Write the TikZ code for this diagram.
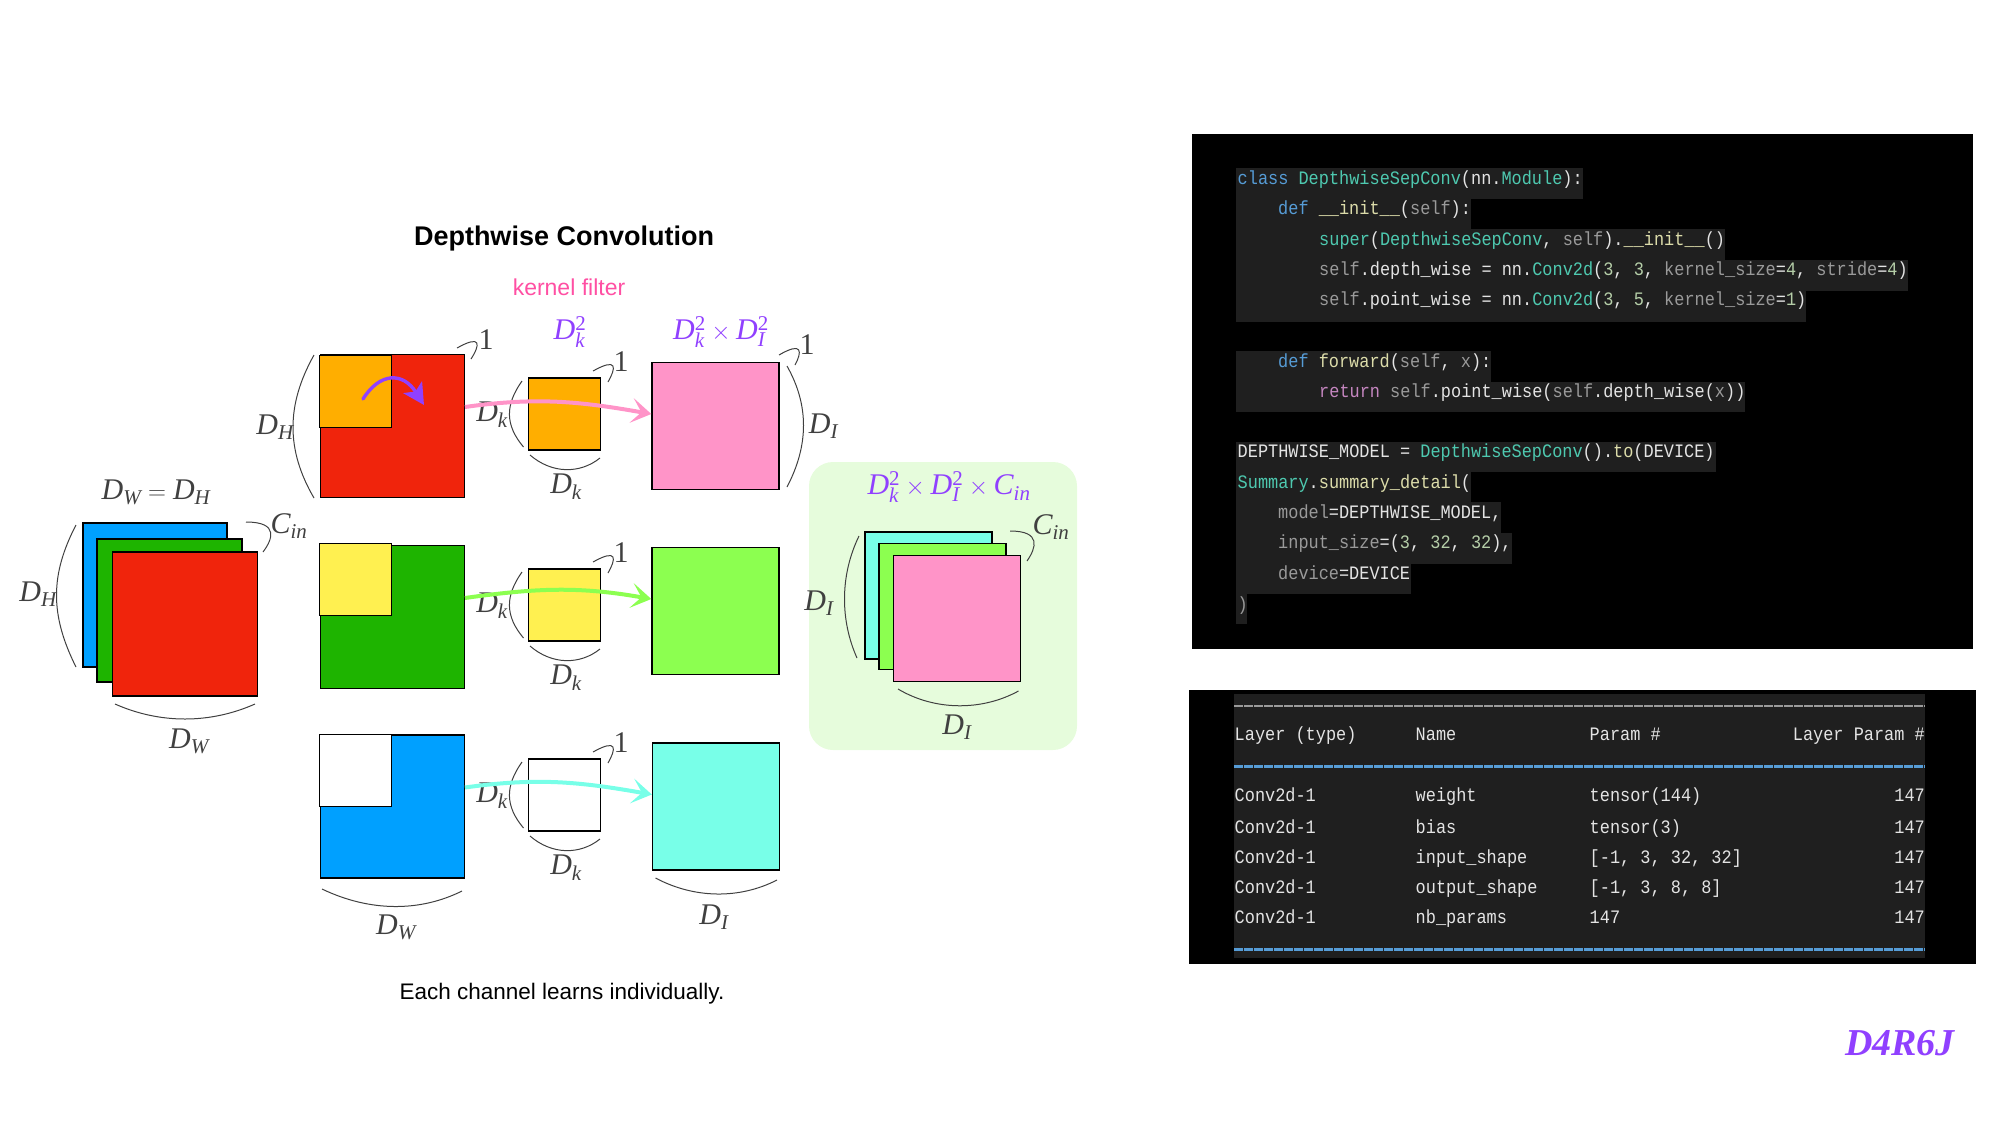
\documentclass[tikz,border=0pt]{standalone}
\usepackage{mathspec}
\setmainfont{Liberation Sans}
\setmathfont(Digits,Latin){Liberation Serif}
\newfontfamily\codefont[FakeStretch=0.89]{Liberation Mono}
\newfontfamily\signfont{Liberation Serif}
\usetikzlibrary{arrows.meta}
\definecolor{codeblue}{HTML}{569CD6}
\definecolor{codeteal}{HTML}{4EC9B0}
\definecolor{codegrey}{HTML}{9A9A9A}
\definecolor{codewhite}{HTML}{E4E4E4}
\definecolor{codeyellow}{HTML}{DCDCAA}
\definecolor{codepink}{HTML}{C586C0}
\definecolor{codenum}{HTML}{B5CEA8}
\newcommand{\ckw}[1]{\textcolor{codeblue}{#1}}
\newcommand{\ccl}[1]{\textcolor{codeteal}{#1}}
\newcommand{\cgr}[1]{\textcolor{codegrey}{#1}}
\newcommand{\cfn}[1]{\textcolor{codeyellow}{#1}}
\newcommand{\crt}[1]{\textcolor{codepink}{#1}}
\newcommand{\cnm}[1]{\textcolor{codenum}{#1}}
\begin{document}
\begin{tikzpicture}[x=1pt, y=1pt,
    sq/.style={draw=black, fill=#1, line width=1.4pt, inner sep=0pt},
    brk/.style={draw=black!75, line width=1pt},
    lbl/.style={text=black!75, inner sep=0pt, font=\fontsize{30}{32}\selectfont},
    plbl/.style={text=dimpurple, inner sep=0pt, font=\fontsize{30}{32}\selectfont},
    flowline/.style={draw=#1, line width=4pt, -{Stealth[length=20pt, width=25pt, inset=10pt, #1]}},
    codeln/.style={anchor=base west, inner sep=0pt, text=codewhite, font=\codefont\fontsize{19}{21}\selectfont},
    hl/.style={fill=black!88}]
  \definecolor{dimpurple}{HTML}{9040FF}
  \definecolor{ired}{HTML}{F0240C}
  \definecolor{iorange}{HTML}{FFAE00}
  \definecolor{igreen}{HTML}{1EB400}
  \definecolor{iyellow}{HTML}{FFF050}
  \definecolor{iblue}{HTML}{00A0FF}
  \definecolor{opink}{HTML}{FF94C8}
  \definecolor{ogreen}{HTML}{8CFF50}
  \definecolor{ocyan}{HTML}{78FFE8}
  \definecolor{panelgreen}{HTML}{E6FCDC}
  \definecolor{kernelpink}{HTML}{FF4FA3}
  \useasboundingbox (0,0) rectangle (2000,-1125);
  % ---- titles ---------------------------------------------------------------
  \node[inner sep=0pt, font=\fontsize{27}{30}\selectfont\bfseries] (title) at (564,-239) {Depthwise Convolution};
  \node[inner sep=0pt, text=kernelpink, font=\fontsize{23}{26}\selectfont] (kernel) at (569,-287) {kernel filter};
  \node[inner sep=0pt, font=\fontsize{22.5}{26}\selectfont] (caption) at (562,-994) {Each channel learns individually.};
  % ---- input stack ----------------------------------------------------------
  \node[sq=iblue, minimum width=144pt, minimum height=144pt] (inb) at (155,-595) {};
  \node[sq=igreen, minimum width=145pt, minimum height=143pt] (ing) at (169.5,-610.5) {};
  \node[sq=ired, minimum width=145pt, minimum height=144pt] (inr) at (185,-624) {};
  \node[lbl] (inwh) at (156,-492) {$D_W = D_H$};
  \node[lbl] (incin) at (289,-526) {$C_{in}$};
  \node[lbl] (inh) at (38,-594) {$D_H$};
  \node[lbl] (inw) at (189,-741) {$D_W$};
  \draw[brk] (246,-522) .. controls (280,-522) and (272,-540) .. (263,-552);
  \draw[brk] (76,-525) .. controls (50,-575) and (50,-615) .. (76,-667);
  \draw[brk] (115,-704) .. controls (160,-724) and (210,-724) .. (255,-704);
  % ---- channel squares and kernel patches -----------------------------------
  \foreach \n/\yb/\yk/\cb/\ck in {r/-426/-391.5/ired/iorange, g/-617/-579.5/igreen/iyellow, b/-806.5/-770.5/iblue/white} {
    \node[sq=\cb, minimum width=143.5pt, minimum height=143pt] (big\n) at (392.5,\yb) {};
    \node[sq=\ck, minimum width=72pt, minimum height=72.5pt] (patch\n) at (355.5,\yk) {};}
  \node[lbl] (dhbig) at (275,-427) {$D_H$};
  \node[lbl] (onebig) at (486,-340) {$1$};
  \draw[brk] (457,-348) .. controls (482,-334) and (480,-345) .. (471,-359);
  \draw[brk] (314,-355) .. controls (286,-405) and (286,-450) .. (314,-498);
  \node[lbl] (dwbig) at (396,-927) {$D_W$};
  \draw[brk] (322,-889) .. controls (370,-912) and (420,-912) .. (462,-891);
  % ---- small kernels --------------------------------------------------------
  \foreach \n/\ys/\cs in {r/0/iorange, g/191/iyellow, b/381/white} {
    \node[sq=\cs, minimum width=72.5pt, minimum height=72pt] (small\n) at (564.5,-414-\ys) {};
    \node[lbl] (dkl\n) at (492,-415-\ys) {$D_k$};
    \node[lbl] (dkb\n) at (566,-487-\ys) {$D_k$};
    \node[lbl] (one\n) at (621,-362-\ys) {$1$};
    \draw[brk] (593,-371-\ys) .. controls (618,-357-\ys) and (616,-368-\ys) .. (608,-382-\ys);
    \draw[brk] (522,-381-\ys) .. controls (505,-405-\ys) and (505,-425-\ys) .. (523.5,-447-\ys);
    \draw[brk] (530,-455-\ys) .. controls (552,-474-\ys) and (580,-474-\ys) .. (600,-458-\ys);}
  % ---- outputs --------------------------------------------------------------
  \node[sq=opink, minimum width=127pt, minimum height=126.5pt] (outr) at (715.5,-426) {};
  \node[sq=ogreen, minimum width=127pt, minimum height=126.5pt] (outg) at (715.5,-611) {};
  \node[sq=ocyan, minimum width=127pt, minimum height=127pt] (outb) at (716,-806.5) {};
  \node[plbl] (headk) at (570,-332) {$D_k^2$};
  \node[plbl] (headki) at (721,-332) {$D_k^2 \times D_I^2$};
  \node[lbl] (oneout) at (807,-345) {$1$};
  \node[lbl] (dir) at (823.5,-426) {$D_I$};
  \node[lbl] (dib) at (714,-917) {$D_I$};
  \draw[brk] (779,-355) .. controls (803,-341) and (802,-352) .. (795,-365);
  \draw[brk] (787,-366) .. controls (809,-405) and (809,-445) .. (787,-487);
  \draw[brk] (655.5,-878) .. controls (695,-899) and (740,-899) .. (777,-880);
  % ---- arrows ---------------------------------------------------------------
  \draw[flowline=opink] ([yshift=19pt]bigr.east) to[out=8, in=170] ([yshift=12pt]outr.west);
  \draw[flowline=ogreen] ([yshift=19pt]bigg.east) to[out=8, in=170] ([yshift=12pt]outg.west);
  \draw[flowline=ocyan] ([yshift=19pt]bigb.east) to[out=8, in=170] ([yshift=12pt]outb.west);
  \draw[draw=dimpurple, line width=3.4pt, line cap=round, -{Stealth[length=21pt, width=22pt, inset=5pt]}]
    (363,-399) .. controls (380,-372) and (403,-372) .. (424,-405);
  % ---- result panel ---------------------------------------------------------
  \node[fill=panelgreen, rounded corners=24pt, minimum width=268pt, minimum height=288pt, inner sep=0pt] (panel) at (943,-606) {};
  \node[plbl] (headall) at (949,-487) {$D_k^2 \times D_I^2 \times C_{in}$};
  \node[sq=ocyan, minimum width=127pt, minimum height=127pt] (resb) at (928.5,-595.5) {};
  \node[sq=ogreen, minimum width=127pt, minimum height=125.5pt] (resg) at (942.5,-606.5) {};
  \node[sq=opink, minimum width=127pt, minimum height=126.5pt] (resr) at (957,-618.5) {};
  \node[lbl] (rescin) at (1051,-527) {$C_{in}$};
  \node[lbl] (resl) at (819,-603) {$D_I$};
  \node[lbl] (resd) at (957,-727) {$D_I$};
  \draw[brk] (1010,-531) .. controls (1042,-531) and (1036,-548) .. (1027,-561);
  \draw[brk] (859,-536) .. controls (840,-575) and (840,-620) .. (857,-658);
  \draw[brk] (898,-689) .. controls (935,-711) and (982,-711) .. (1018.5,-691);
  % ---- code panel -----------------------------------------------------------
  \node[fill=black, inner sep=0pt, minimum width=781pt, minimum height=515pt] (codebox) at (1582,-391.5) {};
  \foreach \xr/\yt/\yb in {1583/168/199, 1471/199/229, 1725/229/260, 1908/260/291, 1806/291/322,
    1491/351/382, 1745/382/412, 1716/442/472, 1471/472/502, 1501/502/533, 1511.5/533/564, 1410.5/564/594, 1247/594/624}
    \fill[hl] (1236,-\yt) rectangle (\xr,-\yb);
  \node[codeln] (code1) at (1237.5,-184.5) {\ckw{class} \ccl{DepthwiseSepConv}(nn.\ccl{Module}):};
  \node[codeln] (code2) at (1278,-214.5) {\ckw{def} \cfn{\_\_init\_\_}(\cgr{self}):};
  \node[codeln] (code3) at (1319,-245.5) {\ccl{super}(\ccl{DepthwiseSepConv}, \cgr{self}).\cfn{\_\_init\_\_}()};
  \node[codeln] (code4) at (1319,-275.5) {\cgr{self}.depth\_wise = nn.\ccl{Conv2d}(\cnm{3}, \cnm{3}, \cgr{kernel\_size}=\cnm{4}, \cgr{stride}=\cnm{4})};
  \node[codeln] (code5) at (1319,-305.5) {\cgr{self}.point\_wise = nn.\ccl{Conv2d}(\cnm{3}, \cnm{5}, \cgr{kernel\_size}=\cnm{1})};
  \node[codeln] (code6) at (1278,-367.5) {\ckw{def} \cfn{forward}(\cgr{self}, \cgr{x}):};
  \node[codeln] (code7) at (1319,-397.5) {\crt{return} \cgr{self}.point\_wise(\cgr{self}.depth\_wise(\cgr{x}))};
  \node[codeln] (code8) at (1237.5,-457.5) {DEPTHWISE\_MODEL = \ccl{DepthwiseSepConv}().\cfn{to}(DEVICE)};
  \node[codeln] (code9) at (1237.5,-488.5) {\ccl{Summary}.\cfn{summary\_detail}(};
  \node[codeln] (code10) at (1278,-518.5) {\cgr{model}=DEPTHWISE\_MODEL,};
  \node[codeln] (code11) at (1278,-548.5) {\cgr{input\_size}=(\cnm{3}, \cnm{32}, \cnm{32}),};
  \node[codeln] (code12) at (1278,-579.5) {\cgr{device}=DEVICE};
  \node[codeln] (code13) at (1237.5,-610.5) {\cgr{)}};
  % ---- summary table --------------------------------------------------------
  \node[fill=black, inner sep=0pt, minimum width=787pt, minimum height=274pt] (tablebox) at (1582.5,-826.5) {};
  \fill[hl] (1233.5,-694) rectangle (1925,-958);
  \draw[codegrey, line width=1.6pt, dash pattern=on 9pt off 1pt] (1234,-706) -- (1925,-706);
  \draw[codeblue, line width=3pt, dash pattern=on 9pt off 1pt] (1234,-766) -- (1925,-766);
  \draw[codeblue, line width=3pt, dash pattern=on 9pt off 1pt] (1234,-949) -- (1925,-949);
  \node[codeln] (hlayer) at (1234.5,-740.5) {Layer (type)};
  \node[codeln] (hname) at (1415.5,-740.5) {Name};
  \node[codeln] (hparam) at (1589.5,-740.5) {Param \#};
  \node[codeln, anchor=base east] (htotal) at (1925,-740.5) {Layer Param \#};
  \foreach \yr/\nm/\pv in {801/weight/tensor(144), 833/bias/tensor(3), 863/input\_shape/{[-1, 3, 32, 32]}, 893/output\_shape/{[-1, 3, 8, 8]}, 923/nb\_params/147} {
    \node[codeln] (lay\yr) at (1234.5,-\yr) {Conv2d-1};
    \node[codeln] (nam\yr) at (1415.5,-\yr) {\nm};
    \node[codeln] (par\yr) at (1589.5,-\yr) {\pv};
    \node[codeln, anchor=base east] (tot\yr) at (1925,-\yr) {147};}
  % ---- signature ------------------------------------------------------------
  \node[inner sep=0pt, text=dimpurple, font=\signfont\fontsize{38}{40}\selectfont\bfseries\itshape] (sign) at (1900,-1043) {D4R6J};
\end{tikzpicture}
\end{document}
